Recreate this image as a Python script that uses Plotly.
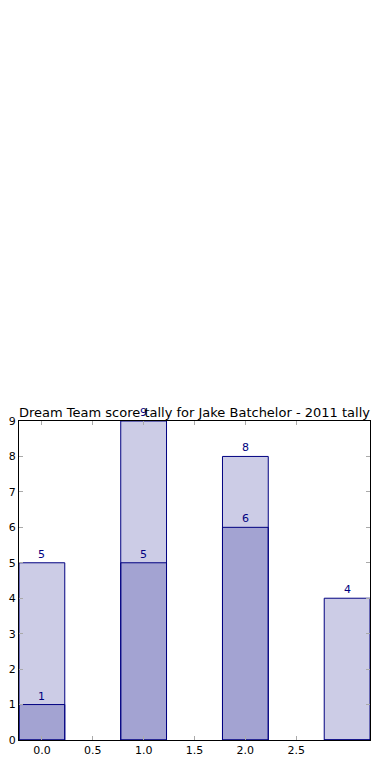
import plotly.graph_objects as go

positions = [0, 1, 2, 3]
total_scores = [5, 9, 8, 4]
first_scores = [1, 5, 6, 0]
x_tick_vals = [0.0, 0.5, 1.0, 1.5, 2.0, 2.5]
x_tick_text = ["0.0", "0.5", "1.0", "1.5", "2.0", "2.5"]
y_tick_vals = [0, 1, 2, 3, 4, 5, 6, 7, 8, 9]
title_text = "Dream Team score tally for Jake Batchelor - 2011 tally"

bar_fill = "rgba(0,0,128,0.2)"
edge = "#000080"
font_family = "DejaVu Sans"

fig = go.Figure()
fig.add_trace(go.Bar(x=positions, y=total_scores, width=0.45,
                     marker=dict(color=bar_fill, line=dict(color=edge, width=1)),
                     showlegend=False, hoverinfo="skip"))
fig.add_trace(go.Bar(x=positions, y=first_scores, width=0.45,
                     marker=dict(color=bar_fill, line=dict(color=edge, width=1)),
                     showlegend=False, hoverinfo="skip"))

annotations = []
for xs, ys in ((positions, total_scores), (positions, first_scores)):
    for xv, yv in zip(xs, ys):
        if yv > 0:
            annotations.append(dict(x=xv, y=yv, xref="x", yref="y", text=str(yv),
                                    showarrow=False, yanchor="bottom", yshift=0,
                                    font=dict(family=font_family, size=11, color=edge)))
annotations.append(dict(x=0.5, y=1, xref="paper", yref="paper", text=title_text,
                        showarrow=False, yanchor="bottom", xanchor="center", yshift=-1,
                        font=dict(family=font_family, size=13, color="black")))

fig.update_layout(
    width=390, height=780,
    margin=dict(l=11, r=28, t=413, b=48, pad=0, autoexpand=False),
    barmode="overlay",
    paper_bgcolor="white", plot_bgcolor="white",
    font=dict(family=font_family, size=11, color="black"),
    annotations=annotations,
)
fig.update_xaxes(range=[-0.225, 3.225], tickvals=x_tick_vals, ticktext=x_tick_text,
                 showgrid=False, zeroline=False, showline=True, linecolor="black",
                 linewidth=1, mirror="ticks", ticks="inside", ticklen=4, automargin=False,
                 tickcolor="#aaaaaa", tickfont=dict(size=11, family=font_family))
fig.update_yaxes(range=[0, 9], tickvals=y_tick_vals, automargin=False,
                 showgrid=False, zeroline=False, showline=True, linecolor="black",
                 linewidth=1, mirror="ticks", ticks="inside", ticklen=4,
                 tickcolor="#aaaaaa", tickfont=dict(size=11, family=font_family))

fig.write_html("out.html")
